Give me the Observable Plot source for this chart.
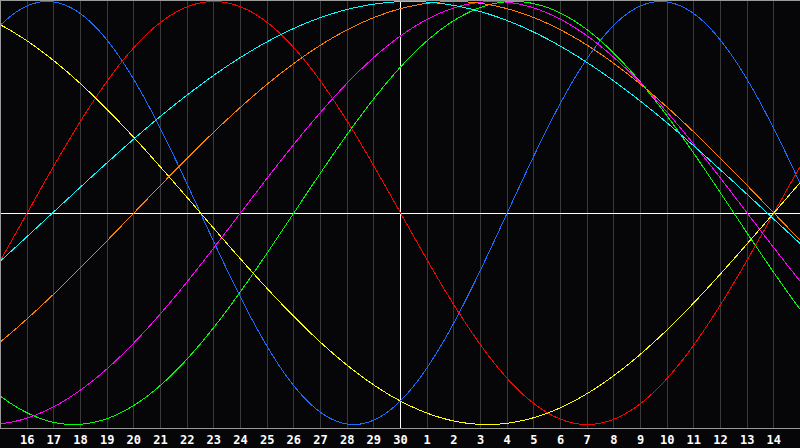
<!DOCTYPE html>
<html><head><meta charset="utf-8">
<script src="https://cdn.jsdelivr.net/npm/d3@7"></script>
<script src="https://cdn.jsdelivr.net/npm/@observablehq/plot@0.6"></script>
<style>html,body{margin:0;padding:0;background:#060608;overflow:hidden}</style>
</head><body><div id="chart"></div>
<script>
// Biorhythm cycles: name, period (days) and the day index where the cycle crosses zero going up
const cycleNames = ["Physical", "Emotional", "Intellectual", "Intuitive", "Aesthetic", "Awareness", "Spiritual"];
const cyclePeriods = [23, 28, 33, 38, 43, 48, 53.6];
const cycleZeroDay = [34, 16, 26, 24, 44, 20, 16.95];
// Day axis: index 15..45 (30 = today), labelled with day of month
const dayTicks = [16,17,18,19,20,21,22,23,24,25,26,27,28,29,30,31,32,33,34,35,36,37,38,39,40,41,42,43,44];
const dayLabels = ["16","17","18","19","20","21","22","23","24","25","26","27","28","29","30","1","2","3","4","5","6","7","8","9","10","11","12","13","14"];
const todayIndex = 30;

const cycleColors = ["#1a6cff", "#ff0000", "#00ff00", "#ff00ff", "#ffff00", "#ff8000", "#00ffff"];

const rows = [];
cycleNames.forEach((name, i) => {
  for (let k = 0; k <= 600; k++) {
    const d = 15 + k * 0.05;
    rows.push({name, d, v: Math.sin(2 * Math.PI * (d - cycleZeroDay[i]) / cyclePeriods[i])});
  }
});

const chart = Plot.plot({
  width: 800, height: 448,
  marginLeft: 0, marginRight: 0, marginTop: 0, marginBottom: 20,
  style: {background: "#060608", color: "#ffffff", fontFamily: "'DejaVu Sans Mono', monospace", fontSize: "12px", fontWeight: "bold"},
  x: {domain: [15, 45]},
  y: {domain: [-1, 1], range: [424, 1], axis: null},
  color: {domain: cycleNames, range: cycleColors},
  marks: [
    Plot.ruleX(dayTicks.filter(d => d !== todayIndex), {stroke: "#3a3a3a", strokeWidth: 1, shapeRendering: "crispEdges"}),
    Plot.ruleX([todayIndex], {stroke: "#ffffff", strokeWidth: 1, shapeRendering: "crispEdges"}),
    Plot.ruleY([0], {stroke: "#ffffff", strokeWidth: 1, shapeRendering: "crispEdges"}),
    Plot.line(rows, {x: "d", y: "v", z: "name", stroke: "name", strokeWidth: 1, shapeRendering: "crispEdges"}),
    Plot.frame({stroke: "#999999", shapeRendering: "crispEdges"}),
    Plot.axisX(dayTicks, {tickSize: 0, tickPadding: 7, tickFormat: (d, i) => dayLabels[dayTicks.indexOf(d)], fill: "#ffffff", label: null})
  ]
});
document.getElementById("chart").appendChild(chart);
</script>
</body></html>
